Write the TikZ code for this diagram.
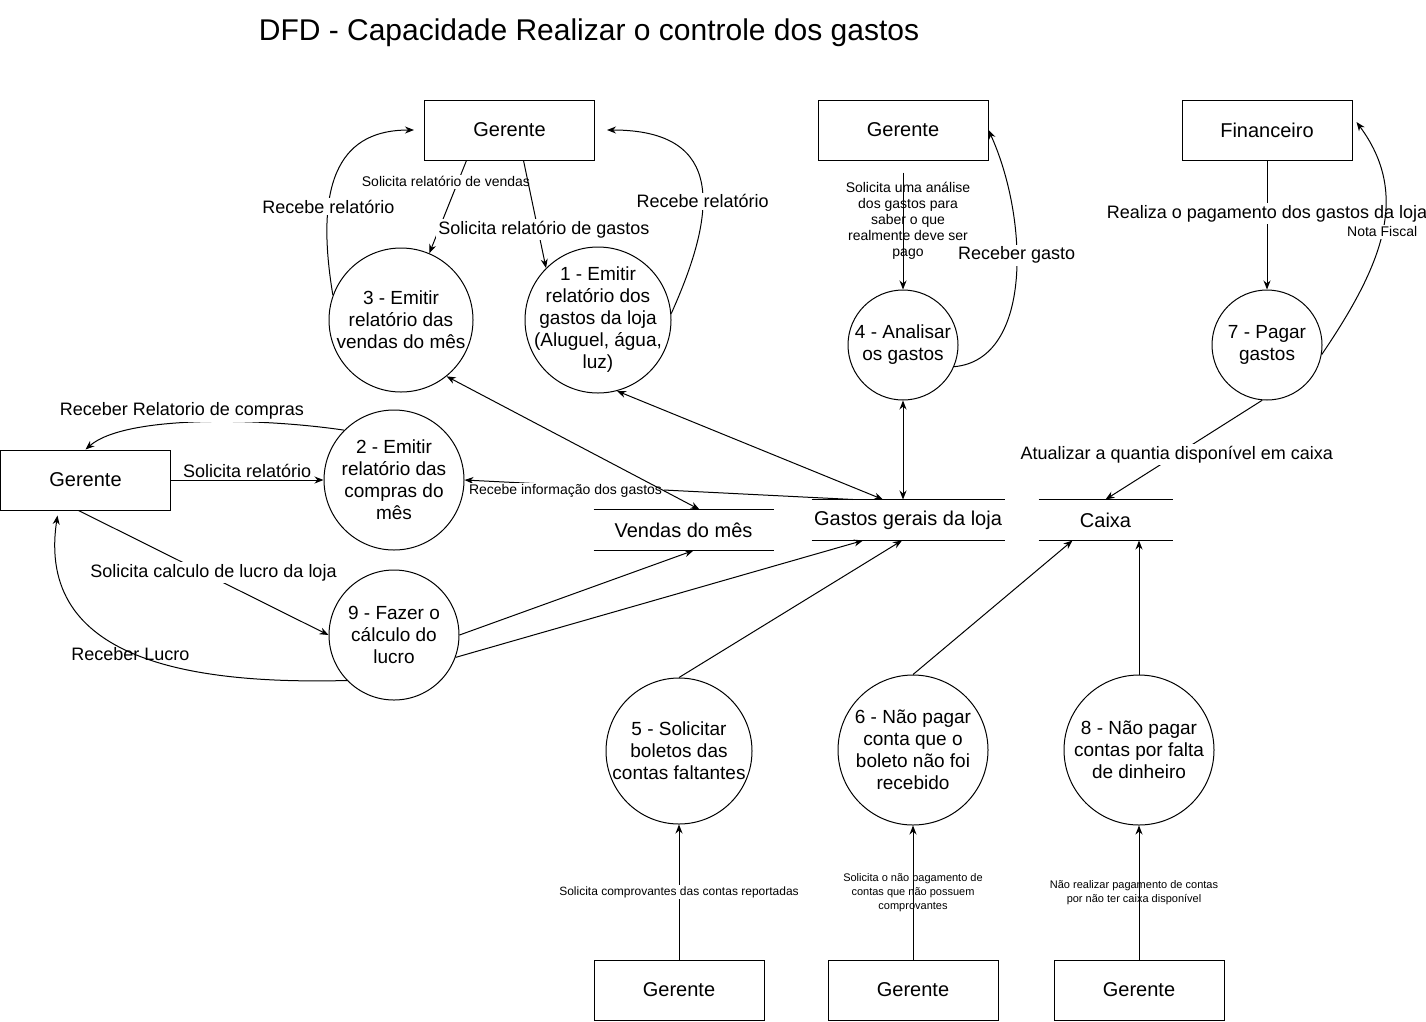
\documentclass[tikz,border=0pt]{standalone}
\usepackage{fontspec}
\setmainfont{Liberation Sans}
\usetikzlibrary{arrows.meta}

\begin{document}
\begin{tikzpicture}[x=1pt, y=-1pt, line width=1pt, >={Stealth[length=9pt,width=7pt]},
  ent/.style={draw, minimum width=170, minimum height=60, font=\fontsize{20}{24}\selectfont},
  proc/.style={draw, circle, inner sep=-15pt, align=center, font=\fontsize{19}{22}\selectfont},
  store/.style={inner sep=0pt, minimum height=40, font=\fontsize{20}{24}\selectfont},
  lbl/.style={fill=white, inner sep=2pt, align=center, font=\fontsize{18}{22}\selectfont},
  slbl/.style={fill=white, inner sep=2pt, align=center, font=\fontsize{14}{16}\selectfont},
  tlbl/.style={inner sep=1pt, align=center, font=\fontsize{11}{14}\selectfont}]
\useasboundingbox (0,0) rectangle (1426,1021);

\node[font=\fontsize{30}{36}\selectfont] (titulo) at (589,33) {DFD - Capacidade Realizar o controle dos gastos};

\node[ent] (g1) at (509.5,130) {Gerente};
\node[ent] (g2) at (903,130) {Gerente};
\node[ent] (fin) at (1267,130) {Financeiro};
\node[ent] (gl) at (85.5,480) {Gerente};
\node[ent] (gb1) at (679,990) {Gerente};
\node[ent] (gb2) at (913,990) {Gerente};
\node[ent] (gb3) at (1139,990) {Gerente};

\node[proc, minimum size=144] (p3) at (401,320) {3 - Emitir\\relatório das\\vendas do mês};
\node[proc, minimum size=146] (p1) at (598,320) {1 - Emitir\\relatório dos\\gastos da loja\\(Aluguel, água,\\luz)};
\node[proc, minimum size=110] (p4) at (903,345) {4 - Analisar\\os gastos};
\node[proc, minimum size=110] (p7) at (1267,345) {7 - Pagar\\gastos};
\node[proc, minimum size=140] (p2) at (394,480) {2 - Emitir\\relatório das\\compras do\\mês};
\node[proc, minimum size=130] (p9) at (394,635) {9 - Fazer o\\cálculo do\\lucro};
\node[proc, minimum size=146] (p5) at (679,751) {5 - Solicitar\\boletos das\\contas faltantes};
\node[proc, minimum size=150] (p6) at (913,750) {6 - Não pagar\\conta que o\\boleto não foi\\recebido};
\node[proc, minimum size=150] (p8) at (1139,750) {8 - Não pagar\\contas por falta\\de dinheiro};

\node[store, minimum width=179] (vs) at (683.5,530) {Vendas do mês};
\node[store, minimum width=192] (gg) at (908,520) {Gastos gerais da loja};
\node[store, minimum width=133] (ca) at (1105.5,520) {Caixa};
\foreach \s in {vs,gg,ca}
    \draw (\s.north west) -- (\s.north east) (\s.south west) -- (\s.south east);

\draw[->] ([xshift=-43pt]g1.south) -- (p3.67) node[slbl, pos=0.23, xshift=-12pt] {Solicita relatório de vendas};
\draw[->] ([xshift=14pt]g1.south) -- (p1.135) node[lbl, pos=0.64, xshift=6pt] {Solicita relatório de gastos};
\draw[->] (p3.160) .. controls +(-20,-120) and +(-70,0) .. ([xshift=-10pt]g1.west) node[lbl, pos=0.3] {Recebe relatório};
\draw[->] (p1.5) .. controls +(45,-100) and +(120,0) .. ([xshift=12pt]g1.east) node[lbl, pos=0.42] {Recebe relatório};

\draw[->] ([yshift=-12pt]g2.south) -- (p4) node[slbl, fill=none, pos=0.415, xshift=5pt] {Solicita uma análise\\dos gastos para\\saber o que\\realmente deve ser\\pago};
\draw[->] (p4.-23) .. controls +(79,-7) and +(40,88) .. (g2.east) node[lbl, pos=0.58] {Receber gasto};

\draw[->] (fin) -- (p7) node[lbl, pos=0.41] {Realiza o pagamento dos gastos da loja};
\draw[->] (p7.-10) .. controls +(61,-90) and +(54,73) .. ([xshift=4pt,yshift=8pt]fin.east) node[slbl, pos=0.5] {Nota Fiscal};

\draw[->] (gl) -- (p2) node[lbl, above, pos=0.5] {Solicita relatório};
\draw[->] (p2.135) .. controls +(-80,-12) and +(40,-35) .. (gl.north) node[lbl, above, pos=0.5, xshift=-18pt] {Receber Relatorio de compras};
\draw[->] ([xshift=-7pt]gl.south) -- (p9.west) node[lbl, pos=0.5, xshift=10pt] {Solicita calculo de lucro da loja};
\draw[->] (p9.224) .. controls +(-156,4) and +(-22,145) .. ([xshift=-28pt,yshift=-5pt]gl.south) node[lbl, fill=none, pos=0.5, xshift=-5pt] {Receber Lucro};

\draw[->] ([xshift=-55pt]gg.north) -- (p2.east) node[slbl, pos=0.74, yshift=-6pt] {Recebe informação dos gastos};
\draw[<->] (p3.-51) -- ([xshift=16pt]vs.north);
\draw[<->] (p1.-75) -- ([xshift=-25pt]gg.north);
\draw[<->] (p4.south) -- (p4.south |- gg.north);
\draw[->] (p7.-95) -- (ca.north) node[lbl, pos=0.545] {Atualizar a quantia disponível em caixa};
\draw[->] (p9.east) -- ([xshift=10pt]vs.south);
\draw[->] (p9.-20) -- ([xshift=-45pt]gg.south);
\draw[->] (p5.north) -- ([xshift=-6pt]gg.south);
\draw[->] (p6.north) -- ([xshift=-33pt]ca.south);
\draw[->] (p8.north) -- (p8.north |- ca.south);

\draw[->] (gb1) -- (p5) node[tlbl, fill=white, font=\fontsize{12}{14}\selectfont, pos=0.5] {Solicita comprovantes das contas reportadas};
\draw[->] (gb2) -- (p6) node[tlbl, pos=0.5] {Solicita o não pagamento de\\contas que não possuem\\comprovantes};
\draw[->] (gb3) -- (p8) node[tlbl, pos=0.5, xshift=-5pt] {Não realizar pagamento de contas\\por não ter caixa disponível};
\end{tikzpicture}
\end{document}
